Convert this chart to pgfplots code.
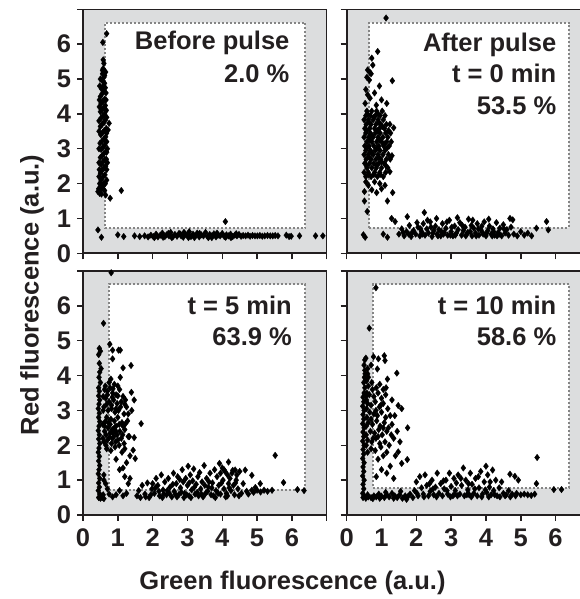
\documentclass[border=0pt]{standalone}
\usepackage{fontspec}
\setmainfont{Liberation Sans}
\usepackage{pgfplots}
\pgfplotsset{compat=1.18}
\definecolor{txt}{HTML}{231F20}
\definecolor{bg}{HTML}{DCDDDE}
\definecolor{gate}{HTML}{858585}
\newcommand{\bigf}{\fontsize{25.5}{30}\selectfont\bfseries}
\pgfplotsset{
 panel/.style={
  scale only axis, width=243.7pt, height=244pt,
  xmin=0,xmax=7,ymin=0,ymax=7,
  xtick={0,1,2,3,4,5,6,7}, ytick={0,1,2,3,4,5,6,7},
  tick align=outside, xtick pos=bottom, ytick pos=left,
  major tick length=6pt,
  tick style={line width=1.5pt, color=txt},
  axis line style={line width=1.6pt, color=txt},
  axis background/.style={fill=bg},
  axis on top,
  tick label style={font=\bigf, text=txt, inner sep=0pt, outer sep=0pt},
  yticklabel style={xshift=-6pt},
  xticklabel style={yshift=-8pt},
  /pgf/number format/assume math mode=true,
  xticklabels={}, yticklabels={},
  anchor=south west,
 },
 xlab/.style={xticklabels={0,1,2,3,4,5,6,{}}},
 ylab/.style={yticklabels={0,1,2,3,4,5,6,{}}},
 gatestyle/.style={fill=white, draw=gate, line width=2pt, dash pattern=on 2pt off 2pt, mark=none},
 pts/.style={only marks, mark=diamond*, mark size=3.3pt, mark options={fill=black, draw=black, line width=0.3pt}},
}
\begin{document}
\begin{tikzpicture}
\useasboundingbox (0,0) rectangle (580pt,599pt);
\clip (0,0) rectangle (580pt,599pt);
% ---------- Panel 1: Before pulse
\begin{axis}[panel, ylab, at={(83pt,345.7pt)}]
\addplot[gatestyle] coordinates {(0.63,0.72)(6.39,0.72)(6.39,6.62)(0.63,6.62)(0.63,0.72)};
\addplot[pts] coordinates {
(0.50,1.80)(0.56,1.90)(0.60,2.00)(0.52,2.10)(0.58,2.20)(0.63,2.25)(0.50,2.30)(0.55,2.38)(0.60,2.45)(0.65,2.50)(0.52,2.55)(0.57,2.62)(0.62,2.68)(0.50,2.75)(0.55,2.80)(0.60,2.86)(0.66,2.92)(0.52,2.98)(0.57,3.04)(0.62,3.10)(0.49,3.16)(0.55,3.22)(0.60,3.28)(0.65,3.34)(0.51,3.40)(0.56,3.46)(0.61,3.52)(0.67,3.58)(0.50,3.64)(0.55,3.70)(0.60,3.76)(0.64,3.82)(0.52,3.88)(0.57,3.94)(0.62,4.00)(0.50,4.06)(0.55,4.12)(0.60,4.18)(0.64,4.24)(0.52,4.30)(0.57,4.36)(0.62,4.42)(0.50,4.50)(0.55,4.58)(0.60,4.65)(0.53,4.72)(0.58,4.80)(0.62,4.88)(0.55,4.96)(0.60,5.05)(0.56,5.15)(0.62,5.10)(0.58,5.30)(0.60,5.45)(0.58,5.55)(0.57,6.05)(0.68,6.30)
(0.47,1.75)(0.45,1.85)(0.48,2.00)(0.47,2.40)(0.67,2.70)(0.68,3.20)(0.70,3.00)(0.46,3.00)(0.46,3.50)(0.68,3.90)(0.47,4.20)(0.66,4.60)(0.48,4.80)(0.65,1.67)(0.78,1.58)(1.10,1.80)(0.75,3.73)(0.72,3.54)(0.70,2.60)(0.68,2.10)(0.43,1.77)(0.48,1.72)(0.55,1.95)
(0.46,2.20)(0.46,2.60)(0.46,3.80)(0.47,4.40)(0.68,2.40)(0.68,2.90)(0.68,3.45)(0.67,4.10)(0.66,4.40)(0.64,4.75)(0.50,5.00)(0.65,5.20)(0.56,5.25)(0.64,2.00)(0.62,1.80)(0.53,1.70)
(0.43,0.67)(0.53,0.46)(1.00,0.53)(1.17,0.48)(4.09,0.91)
(1.48,0.50)(1.63,0.48)(1.77,0.50)(1.87,0.47)(1.95,0.52)(2.02,0.48)(2.10,0.55)(2.15,0.47)(2.22,0.52)(2.28,0.58)(2.35,0.48)(2.40,0.53)(2.47,0.50)(2.52,0.60)(2.58,0.47)(2.64,0.54)(2.70,0.49)(2.76,0.57)(2.82,0.50)(2.88,0.46)(2.94,0.55)(3.00,0.52)(3.05,0.62)(3.10,0.48)(3.16,0.55)(3.22,0.50)(3.28,0.58)(3.34,0.47)(3.40,0.53)(3.46,0.50)(3.52,0.60)(3.58,0.48)(3.64,0.54)(3.70,0.50)(3.76,0.56)(3.82,0.47)(3.88,0.52)(3.94,0.50)(4.00,0.57)(4.06,0.48)(4.12,0.53)(4.18,0.50)(4.24,0.55)(4.30,0.48)(4.36,0.52)(4.42,0.50)(4.48,0.54)(4.54,0.49)(4.60,0.51)(4.67,0.50)(4.74,0.52)(4.80,0.49)(4.87,0.51)(4.94,0.50)(5.01,0.50)(5.08,0.51)(5.15,0.49)(5.22,0.50)(5.30,0.51)(5.38,0.50)(5.45,0.50)(5.52,0.51)(5.60,0.50)(5.84,0.52)(5.92,0.48)(5.98,0.49)(6.22,0.50)(6.68,0.50)(6.89,0.50)
(2.05,0.45)(2.30,0.46)(2.55,0.45)(2.80,0.55)(3.03,0.45)(3.35,0.57)(3.60,0.45)(3.85,0.58)(4.10,0.46)(4.40,0.56)(2.45,0.57)(2.90,0.60)(3.20,0.45)(3.70,0.45)(4.25,0.45)
};
\node[anchor=base east, font=\bigf, text=txt] at (axis cs:6.03,5.84) {Before pulse};
\node[anchor=base east, font=\bigf, text=txt] at (axis cs:6.03,4.90) {2.0 \%};
\end{axis}
% ---------- Panel 2: After pulse t = 0
\begin{axis}[panel, at={(346.7pt,345.7pt)}]
\addplot[gatestyle] coordinates {(0.65,0.74)(6.39,0.74)(6.39,6.62)(0.65,6.62)(0.65,0.74)};
\addplot[pts] coordinates {
(0.55,2.20)(0.70,2.20)(0.88,2.20)(1.05,2.20)
(0.50,2.32)(0.62,2.32)(0.80,2.32)(0.95,2.32)(1.12,2.32)
(0.58,2.45)(0.72,2.45)(0.85,2.45)(1.00,2.45)(1.18,2.45)
(0.52,2.58)(0.66,2.58)(0.78,2.58)(0.92,2.58)(1.08,2.58)
(0.56,2.70)(0.70,2.70)(0.84,2.70)(0.98,2.70)(1.14,2.70)(1.25,2.70)
(0.50,2.83)(0.62,2.83)(0.76,2.83)(0.90,2.83)(1.04,2.83)(1.20,2.83)
(0.55,2.95)(0.68,2.95)(0.82,2.95)(0.96,2.95)(1.10,2.95)
(0.52,3.08)(0.64,3.08)(0.78,3.08)(0.92,3.08)(1.06,3.08)(1.22,3.08)
(0.58,3.20)(0.72,3.20)(0.86,3.20)(1.00,3.20)(1.15,3.20)
(0.50,3.33)(0.63,3.33)(0.76,3.33)(0.90,3.33)(1.04,3.33)(1.18,3.33)
(0.55,3.45)(0.68,3.45)(0.82,3.45)(0.96,3.45)(1.12,3.45)(1.26,3.45)
(0.52,3.58)(0.66,3.58)(0.80,3.58)(0.94,3.58)(1.08,3.58)
(0.56,3.70)(0.70,3.70)(0.84,3.70)(0.98,3.70)(1.14,3.70)(1.24,3.70)
(0.50,3.83)(0.62,3.83)(0.76,3.83)(0.90,3.83)(1.05,3.83)
(0.55,3.95)(0.68,3.95)(0.82,3.95)(0.96,3.95)(1.10,3.95)
(0.58,4.08)(0.72,4.08)(0.86,4.08)(1.02,4.08)
(0.63,2.26)(0.78,2.26)(0.96,2.26)(0.57,2.52)(0.86,2.52)(1.12,2.52)(0.64,2.76)(0.92,2.76)(0.58,3.02)(0.88,3.02)(1.16,3.02)(0.66,3.26)(0.94,3.26)(0.58,3.52)(0.88,3.52)(1.20,3.52)(0.64,3.76)(0.92,3.76)(0.60,4.00)(0.90,4.00)(0.78,3.90)(1.02,3.64)(0.70,3.40)(1.08,3.14)(0.72,2.88)(1.00,2.62)
(0.53,4.30)(0.67,4.45)(1.00,4.40)(0.60,4.55)(0.80,4.60)(0.94,4.80)(1.31,4.95)(0.65,4.97)(0.60,5.26)(0.75,5.40)(0.72,5.60)(0.89,5.79)(0.70,5.15)(0.55,4.70)(1.13,6.75)(0.85,4.25)(1.15,4.30)(0.58,5.05)(0.66,5.20)
(0.51,1.77)(0.51,1.50)(0.59,1.20)(1.17,1.50)(1.32,1.74)(1.24,2.34)(0.86,1.74)(0.72,1.82)(0.62,1.95)(0.95,2.00)(1.10,1.95)(1.30,2.80)(1.28,3.20)(1.35,3.60)(0.55,2.05)(0.80,2.05)(1.00,1.85)
(0.48,0.53)(0.53,0.46)(1.05,0.55)(1.17,0.46)(1.29,1.00)(1.39,0.91)(1.74,1.05)(2.23,1.17)(4.69,1.00)(4.77,0.96)(5.74,0.91)(5.79,0.67)(5.45,0.72)(5.31,0.50)
(1.50,0.55)(1.58,0.70)(1.65,0.50)(1.72,0.62)(1.80,0.80)(1.85,0.48)(1.92,0.65)(1.98,0.55)(2.05,0.75)(2.10,0.50)(2.15,0.62)(2.20,0.85)(2.25,0.52)(2.30,0.70)(2.35,0.58)(2.40,0.90)(2.45,0.48)(2.50,0.65)(2.55,0.78)(2.60,0.55)(2.65,0.68)(2.70,0.50)(2.75,0.85)(2.80,0.60)(2.85,0.72)(2.90,0.52)(2.95,0.95)(3.00,0.62)(3.05,0.50)(3.10,0.78)(3.15,0.58)(3.20,0.68)(3.25,0.88)(3.30,0.52)(3.35,0.65)(3.40,0.75)(3.45,0.55)(3.50,0.98)(3.55,0.62)(3.60,0.50)(3.65,0.72)(3.70,0.58)(3.75,0.85)(3.80,0.52)(3.85,0.68)(3.90,0.60)(3.95,0.90)(4.00,0.50)(4.05,0.65)(4.10,0.78)(4.15,0.55)(4.20,0.70)(4.25,0.52)(4.30,0.88)(4.35,0.60)(4.40,0.72)(4.45,0.50)(4.50,0.82)(4.55,0.58)(4.60,0.68)(4.65,0.52)(4.72,0.75)(4.80,0.55)(4.90,0.50)(5.00,0.62)(5.10,0.52)(5.20,0.58)
(1.88,0.60)(2.02,0.88)(2.18,0.55)(2.32,0.95)(2.48,0.58)(2.58,1.00)(2.72,0.62)(2.88,0.90)(3.02,0.75)(3.18,1.02)(3.32,0.80)(3.48,0.60)(3.62,0.95)(3.78,0.70)(3.92,0.55)(4.08,0.98)(4.22,0.62)(4.38,0.55)(4.52,0.70)(2.12,0.70)(2.42,0.75)(2.78,0.55)(3.12,0.52)(3.42,0.50)(3.72,0.50)(4.02,0.58)(4.32,0.50)(2.62,0.50)(2.98,0.52)(3.58,0.80)(3.88,0.78)(4.18,0.50)(1.78,0.55)(1.62,0.60)
};
\node[anchor=base east, font=\bigf, text=txt] at (axis cs:6.12,5.79) {After pulse};
\node[anchor=base east, font=\bigf, text=txt] at (axis cs:6.12,4.90) {t = 0 min};
\node[anchor=base east, font=\bigf, text=txt] at (axis cs:6.12,3.97) {53.5 \%};
\end{axis}
% ---------- Panel 3: t = 5 min
\begin{axis}[panel, xlab, ylab, at={(83pt,84pt)}]
\addplot[gatestyle] coordinates {(0.74,0.73)(6.38,0.73)(6.38,6.62)(0.74,6.62)(0.74,0.73)};
\addplot[pts] coordinates {
(0.45,0.50)(0.48,0.60)(0.44,0.70)(0.47,0.80)(0.45,0.92)(0.48,1.05)(0.44,1.18)(0.46,1.30)(0.48,1.42)(0.45,1.55)(0.47,1.68)(0.44,1.80)(0.46,1.92)(0.48,2.05)(0.45,2.18)(0.47,2.30)(0.44,2.42)(0.46,2.55)(0.48,2.68)(0.45,2.80)(0.47,2.92)(0.44,3.05)(0.46,3.18)(0.48,3.30)(0.45,3.42)(0.47,3.55)(0.45,3.65)(0.46,3.95)(0.48,4.10)(0.47,4.35)(0.45,4.60)(0.47,4.78)(0.50,4.70)(0.52,4.20)(0.50,3.80)
(0.50,0.48)(0.55,0.50)(0.60,0.47)(0.52,0.55)(0.58,0.58)
(0.62,3.60)(0.70,3.55)(0.78,3.65)(0.85,3.50)(0.95,3.45)(1.05,3.60)(1.15,3.40)(1.22,3.30)(0.65,3.35)(0.75,3.25)(0.88,3.30)(0.98,3.20)(1.10,3.25)(1.25,3.10)(0.60,3.10)(0.72,3.00)(0.82,3.05)(0.92,2.95)(1.02,3.00)(1.18,2.90)(0.68,2.80)(0.80,2.75)(0.90,2.70)(1.00,2.80)(1.12,2.65)(1.28,2.70)(0.62,2.55)(0.72,2.50)(0.84,2.45)(0.95,2.55)(1.06,2.40)(1.20,2.45)(0.66,2.30)(0.78,2.35)(0.88,2.25)(0.98,2.30)(1.10,2.20)(1.30,2.25)(0.60,2.10)(0.70,2.15)(0.82,2.05)(0.94,2.10)(1.04,2.00)(1.18,2.05)(0.68,1.90)(0.80,1.85)(0.92,1.95)(1.12,1.80)(0.75,3.80)(0.90,3.75)(1.00,3.70)(0.62,2.40)(0.57,2.20)(0.57,2.60)(0.58,3.00)(0.58,3.40)(0.95,2.40)(1.15,2.55)(0.85,2.20)(0.73,2.65)
(0.66,2.00)(0.76,2.22)(0.86,2.35)(1.00,2.15)(1.14,2.30)(0.64,2.68)(0.78,2.60)(0.90,2.50)(1.04,2.60)(1.22,2.62)(0.68,3.18)(0.82,3.15)(0.95,3.05)(1.08,3.10)(1.20,3.18)(0.70,3.45)(0.84,3.38)(1.00,3.42)(0.64,3.70)(0.86,3.62)
(0.81,6.95)(0.59,5.50)(0.77,4.90)(0.85,4.73)(1.02,4.73)(1.07,4.73)(0.85,4.48)(1.15,4.22)(1.38,4.29)(0.80,3.90)(1.07,3.95)(1.39,3.52)(1.47,3.30)(1.67,2.62)(1.47,2.22)(1.50,1.62)(1.44,1.86)(1.33,2.25)(1.35,1.70)(1.25,1.50)(1.15,1.35)(1.05,1.30)(0.95,1.60)(1.20,1.90)(1.30,2.90)(1.40,3.00)
(0.60,1.00)(0.65,0.90)(0.75,0.60)(0.85,0.52)(0.95,0.58)(1.05,0.70)(1.15,0.55)(1.25,0.62)(1.30,0.90)(1.35,1.05)(1.20,1.10)(0.70,0.75)(0.60,1.15)
(1.55,0.55)(1.60,0.70)(1.70,0.85)(1.78,0.60)(1.85,0.92)(1.90,0.50)(1.98,0.75)(2.05,0.62)(2.10,1.05)(2.15,0.85)(2.20,0.55)(2.25,1.15)(2.30,0.72)(2.35,0.95)(2.40,0.58)(2.45,1.05)(2.50,0.80)(2.55,0.52)(2.60,1.20)(2.62,0.68)(2.68,0.90)(2.72,1.10)(2.75,0.58)(2.80,0.78)(2.85,1.30)(2.88,0.95)(2.92,0.62)(2.95,1.05)(3.00,0.85)(3.02,1.40)(3.05,0.55)(3.08,1.15)(3.12,0.72)(3.15,0.98)(3.18,1.32)(3.22,0.60)(3.25,0.88)(3.30,1.10)(3.32,0.55)(3.38,0.75)(3.42,0.95)(3.48,1.42)(3.52,0.62)(3.55,1.05)(3.60,0.80)(3.65,1.20)(3.68,0.58)(3.72,0.92)(3.78,1.30)(3.82,0.70)(3.85,1.10)(3.90,0.85)(3.92,1.48)(3.95,0.60)(4.00,1.35)(4.02,1.00)(4.05,0.75)(4.08,1.25)(4.12,0.62)(4.15,1.15)(4.18,0.90)(4.22,1.05)(4.25,0.70)(4.28,1.20)(4.32,0.85)(4.35,0.58)(4.40,1.00)(4.45,0.75)(4.50,1.25)(4.55,0.62)(4.60,0.90)(4.66,1.29)(4.70,0.68)
(1.65,0.50)(1.95,0.58)(2.08,0.78)(2.28,0.50)(2.42,0.70)(2.58,0.88)(2.70,0.52)(2.78,1.02)(2.98,0.58)(3.10,0.50)(3.28,0.65)(3.35,1.22)(3.45,0.52)(3.58,0.68)(3.62,0.95)(3.75,0.55)(3.88,0.62)(3.98,0.92)(4.10,0.52)(4.20,0.78)(4.30,1.28)(4.38,0.92)(4.48,0.55)(2.18,0.68)(2.48,0.62)(2.82,0.65)(3.05,0.92)(3.20,0.80)(3.40,0.60)(3.70,0.78)(3.95,1.20)(4.05,1.30)(4.15,0.55)(4.42,1.15)(1.80,0.52)(2.00,0.90)(2.32,0.60)(2.65,0.60)(2.90,0.50)(3.50,0.85)(3.80,0.50)
(4.85,1.14)(5.09,0.90)(4.95,0.79)(4.37,1.29)(4.18,1.52)(4.85,0.71)(5.00,0.71)(5.20,0.71)(5.43,0.71)(5.52,1.71)(5.76,0.93)(6.16,0.73)(6.35,0.70)(4.75,0.60)(4.90,0.65)(5.10,0.66)(5.30,0.68)
};
\node[anchor=base east, font=\bigf, text=txt] at (axis cs:6.10,5.76) {t = 5 min};
\node[anchor=base east, font=\bigf, text=txt] at (axis cs:6.10,4.86) {63.9 \%};
\end{axis}
% ---------- Panel 4: t = 10 min
\begin{axis}[panel, xlab, at={(346.7pt,84pt)}]
\addplot[gatestyle] coordinates {(0.75,0.78)(6.39,0.78)(6.39,6.62)(0.75,6.62)(0.75,0.78)};
\addplot[pts] coordinates {
(0.47,0.50)(0.50,0.55)(0.46,0.62)(0.49,0.75)(0.47,0.88)(0.50,1.00)(0.46,1.12)(0.49,1.25)(0.47,1.38)(0.50,1.50)(0.46,1.62)(0.49,1.75)(0.47,1.88)(0.50,2.00)(0.46,2.12)(0.49,2.25)(0.47,2.38)(0.50,2.50)(0.46,2.62)(0.49,2.75)(0.47,2.88)(0.50,3.00)(0.46,3.12)(0.49,3.25)(0.47,3.38)(0.50,3.50)(0.52,3.65)(0.49,3.80)(0.51,3.95)(0.52,4.15)(0.50,4.30)(0.52,4.45)(0.55,4.50)(0.53,4.05)(0.55,3.40)
(0.55,0.48)(0.62,0.52)(0.70,0.50)(0.78,0.55)(0.85,0.52)(0.92,0.60)(1.00,0.54)(1.08,0.50)(1.15,0.58)(1.22,0.52)(1.30,0.62)(1.38,0.55)(1.45,0.50)(1.52,0.58)(1.60,0.48)(1.68,0.55)(1.75,0.52)(1.82,0.60)(1.90,0.50)(0.60,0.58)(0.75,0.47)(0.95,0.48)(1.12,0.65)(1.35,0.48)(1.55,0.68)(1.72,0.45)
(0.62,3.70)(0.72,3.80)(0.85,3.65)(0.95,3.75)(1.05,3.60)(0.65,3.45)(0.78,3.40)(0.90,3.50)(1.00,3.35)(1.12,3.45)(0.60,3.20)(0.70,3.15)(0.82,3.25)(0.94,3.10)(1.05,3.20)(1.18,3.05)(0.66,2.95)(0.78,2.90)(0.88,2.85)(1.00,2.95)(1.12,2.80)(1.25,2.85)(0.62,2.65)(0.74,2.60)(0.86,2.70)(0.96,2.55)(1.08,2.65)(1.20,2.50)(0.68,2.40)(0.80,2.35)(0.92,2.45)(1.02,2.30)(1.15,2.40)(1.28,2.30)(0.60,2.15)(0.72,2.10)(0.84,2.20)(0.95,2.05)(1.10,2.10)(1.22,2.00)(0.70,1.90)(0.82,1.85)(0.98,1.95)(1.15,1.80)(1.05,1.70)(0.90,1.60)(0.58,2.80)(0.58,3.50)(1.30,2.60)(1.35,2.20)
(0.56,2.30)(0.56,2.55)(0.57,3.05)(0.57,3.30)(0.57,3.85)(0.60,4.05)(0.56,2.00)(0.60,1.80)(0.76,2.20)(0.90,2.25)(1.05,2.50)(0.70,2.75)(0.84,3.00)(0.98,3.15)(0.74,3.60)
(0.84,6.52)(0.65,5.36)(0.77,4.54)(0.91,4.48)(1.08,4.57)(1.10,4.43)(0.88,4.19)(1.17,3.90)(1.44,4.07)(1.13,3.65)(1.48,3.14)(1.58,3.05)(1.75,2.50)(1.53,2.10)(1.48,1.81)(1.74,1.59)(1.58,1.48)(1.40,1.70)(1.25,1.40)(1.15,1.20)(1.00,1.30)(0.85,1.10)(1.35,1.05)(1.45,2.40)(1.38,2.85)(1.30,3.30)(0.60,4.20)(0.62,3.95)(0.70,4.30)
(1.95,0.70)(2.00,0.95)(2.05,0.55)(2.10,1.10)(2.15,0.78)(2.20,0.60)(2.25,1.15)(2.30,0.85)(2.35,0.55)(2.40,0.68)(2.45,1.00)(2.50,0.58)(2.55,0.80)(2.60,1.20)(2.65,0.62)(2.70,0.90)(2.75,0.55)(2.80,0.75)(2.85,1.00)(2.90,0.60)(2.95,1.20)(3.00,0.82)(3.05,0.55)(3.08,1.05)(3.12,0.70)(3.15,0.92)(3.20,1.15)(3.25,0.60)(3.30,0.85)(3.35,1.35)(3.38,0.55)(3.42,1.00)(3.48,0.72)(3.52,0.58)(3.55,1.20)(3.60,0.88)(3.65,0.62)(3.70,1.05)(3.75,0.55)(3.80,0.78)(3.85,1.25)(3.90,0.60)(3.95,0.95)(4.00,1.40)(4.02,0.65)(4.05,1.15)(4.10,0.80)(4.15,0.58)(4.19,1.29)(4.22,0.70)(4.28,1.00)(4.32,0.55)(4.38,0.78)(4.45,0.95)(4.50,0.62)(4.58,0.58)(4.65,0.70)(4.69,1.17)(4.75,0.60)(4.83,1.11)(4.88,0.62)(4.93,1.00)(5.00,0.58)(5.10,0.60)(5.20,0.58)(5.30,0.56)(5.47,1.65)(5.45,0.90)(5.95,0.73)(6.17,0.73)(5.40,0.60)
(2.02,0.62)(2.22,0.52)(2.38,0.90)(2.58,0.52)(2.78,0.98)(2.98,0.52)(3.18,0.55)(3.28,1.05)(3.45,0.58)(3.58,0.52)(3.68,0.75)(3.88,0.52)(3.98,0.72)(4.08,0.52)(4.25,0.58)(4.40,0.52)(4.55,0.55)(4.70,0.52)(4.85,0.55)(2.48,0.75)(2.88,0.70)(3.10,0.60)(3.50,0.90)(3.78,1.10)(4.12,0.95)
};
\node[anchor=base east, font=\bigf, text=txt] at (axis cs:6.12,5.76) {t = 10 min};
\node[anchor=base east, font=\bigf, text=txt] at (axis cs:6.12,4.86) {58.6 \%};
\end{axis}
\node[rotate=90, font=\bigf, text=txt] at (32pt,304pt) {Red fluorescence (a.u.)};
\node[font=\bigf, text=txt] at (292.5pt,16pt) {Green fluorescence (a.u.)};
\end{tikzpicture}
\end{document}
